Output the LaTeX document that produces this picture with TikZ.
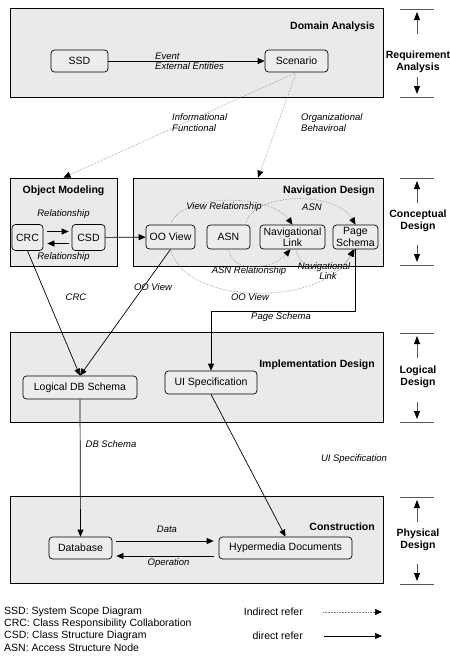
\documentclass[tikz,border=0pt]{standalone}
\usepackage{fontspec}
\setmainfont{Liberation Sans}
\usetikzlibrary{arrows.meta,calc}
\definecolor{boxgray}{HTML}{EAEAEA}
\definecolor{nodegray}{HTML}{EDEDED}
\definecolor{bargray}{HTML}{555555}
\begin{document}
\begin{tikzpicture}[x=1pt,y=-1pt,
 phase/.style={draw=black, line width=0.8pt, fill=boxgray, inner sep=0pt, rectangle},
 stepbox/.style={draw=black, line width=0.7pt, fill=nodegray, rounded corners=3.5pt, inner sep=1pt, align=center, font=\fontsize{10.5}{11.5}\selectfont},
 ttl/.style={font=\bfseries\fontsize{10.5}{12.5}\selectfont, inner sep=0pt, align=center},
 lab/.style={font=\itshape\fontsize{9.5}{10.5}\selectfont, align=left, inner sep=0pt},
 txt/.style={font=\fontsize{10.5}{12}\selectfont, inner sep=0pt},
 arr/.style={line width=0.7pt, -{Triangle[length=7pt,width=6pt]}},
 ind/.style={densely dotted, gray, line width=0.55pt, -{Triangle[length=7pt,width=6pt,color=black,fill=black]}},
 barline/.style={draw=bargray, line width=0.8pt},
 bararr/.style={draw=bargray, line width=0.8pt, -{Triangle[length=8pt,width=6pt,color=black,fill=black]}}
]
\useasboundingbox (0,0) rectangle (450,657);

% phase boxes
\node[phase, minimum width=373pt, minimum height=89pt] (da) at (196.5,52.5) {};
\node[phase, minimum width=107pt, minimum height=88pt] (om) at (63.5,222) {};
\node[phase, minimum width=250pt, minimum height=88pt] (nd) at (258,222) {};
\node[phase, minimum width=373pt, minimum height=90pt] (id) at (196.5,377) {};
\node[phase, minimum width=373pt, minimum height=87pt] (co) at (196.5,539.5) {};

% titles
\node[ttl, anchor=east] (tda) at (375,27) {Domain Analysis};
\node[ttl] (tom) at (63.5,191) {Object Modeling};
\node[ttl, anchor=east] (tnd) at (375,191) {Navigation Design};
\node[ttl, anchor=east] (tid) at (375,365) {Implementation Design};
\node[ttl, anchor=east] (tco) at (375,527) {Construction};

% nodes
\node[stepbox, minimum width=57pt, minimum height=22pt] (ssd) at (79.5,61) {SSD};
\node[stepbox, minimum width=63pt, minimum height=22pt] (scen) at (296.5,61) {Scenario};
\node[stepbox, minimum width=31pt, minimum height=26pt] (crc) at (27.5,237.5) {CRC};
\node[stepbox, minimum width=33pt, minimum height=26pt] (csd) at (88.5,237.5) {CSD};
\node[stepbox, minimum width=49pt, minimum height=24pt] (oov) at (170.5,237) {OO View};
\node[stepbox, minimum width=43pt, minimum height=24pt] (asn) at (228.5,237) {ASN};
\node[stepbox, minimum width=65pt, minimum height=24pt] (nl) at (292.5,237) {Navigational\\Link};
\node[stepbox, minimum width=45pt, minimum height=24pt] (ps) at (355.5,237) {Page\\Schema};
\node[stepbox, minimum width=114pt, minimum height=23pt] (ldb) at (80,387.5) {Logical DB Schema};
\node[stepbox, minimum width=92pt, minimum height=23pt] (ui) at (211,382.5) {UI Specification};
\node[stepbox, minimum width=63pt, minimum height=22pt] (db) at (80.5,548) {Database};
\node[stepbox, minimum width=133pt, minimum height=22pt] (hd) at (285.5,548) {Hypermedia Documents};

% direct connectors
\draw[arr] (ssd) -- (scen);
\draw[arr, shorten <=4pt, shorten >=3pt] ([yshift=6pt]crc.east) -- ([yshift=6pt]csd.west);
\draw[arr, shorten <=3pt, shorten >=4pt] ([yshift=-6pt]csd.west) -- ([yshift=-6pt]crc.east);
\draw[arr] (csd) -- (oov);
\draw[arr] (crc.south) -- (ldb.north);
\draw[arr] (oov.south) -- (ldb.north);
\draw[arr] (ps.south) -- ++(0,62) -| (ui.north);
\draw[arr] (ui.south) -- (hd.north);
\draw[arr] (ldb.south) -- (db.north);
\draw[arr, shorten <=4pt, shorten >=5pt] ([yshift=7pt]db.east) -- ([yshift=7pt]hd.west);
\draw[arr, shorten <=5pt, shorten >=4pt] ([yshift=-8pt]hd.west) -- ([yshift=-8pt]db.east);

% indirect connectors
\draw[ind] (scen.south) -- (om.north);
\draw[ind] (scen.south) -- (nd.north);
\draw[ind] (oov.north) .. controls (180,193) and (270,193) .. (nl.north);
\draw[ind] ([xshift=-5pt]asn.north east) .. controls (252,192) and (335,190) .. (ps.north);
\draw[ind] (asn.south) .. controls (232,274) and (272,270) .. ([xshift=-2pt]nl.south);
\draw[ind] ([xshift=3pt]nl.south) .. controls (305,278) and (338,280) .. ([xshift=-2pt]ps.south);
\draw[ind] (oov.south) .. controls (185,306) and (322,308) .. ([xshift=-1pt]ps.south);

% connector labels
\node[lab, anchor=west] (levt) at (155,61.5) {Event\\External Entities};
\node[lab, anchor=west] (linf) at (172,122.5) {Informational\\Functional};
\node[lab, anchor=west] (lorg) at (301,122.5) {Organizational\\Behaviroal};
\node[lab] (lrel1) at (63.5,214) {Relationship};
\node[lab] (lrel2) at (63.5,257) {Relationship};
\node[lab] (lvr) at (224,207) {View Relationship};
\node[lab] (lasn) at (312,207) {ASN};
\node[lab] (lasnr) at (249,271) {ASN Relationship};
\node[lab, align=center] (lnl) at (324,271) {Navigational\\\hspace*{8pt}Link};
\node[lab] (loov2) at (250,297) {OO View};
\node[lab] (loov1) at (153,287) {OO View};
\node[lab] (lcrc) at (76,297) {CRC};
\node[lab] (lps) at (281,317) {Page Schema};
\node[lab] (ldbs) at (111,444) {DB Schema};
\node[lab] (lui) at (354,459) {UI Specification};
\node[lab] (ldata) at (167,529) {Data};
\node[lab] (lop) at (168.5,563) {Operation};

% side phase indicators
\foreach \n/\t/\b/\c/\la/\lb in {ra/9/97/62/Requirement/Analysis, cd/178/265/221/Conceptual/Design, ld/333/422/377/Logical/Design, pd/497/584/540/Physical/Design} {
  \draw[barline] (400,\t) -- (434,\t);
  \draw[barline] (400,\b) -- (434,\b);
  \coordinate (\n-u1) at (417,\t+25);
  \coordinate (\n-u2) at (417,\t+3);
  \coordinate (\n-d1) at (417,\b-20);
  \coordinate (\n-d2) at (417,\b-3);
  \draw[bararr] (\n-u1) -- (\n-u2);
  \draw[bararr] (\n-d1) -- (\n-d2);
  \node[ttl] (\n-l) at (418,\c) {\la\\\lb};
}

% legend
\node[txt, anchor=west] (g1) at (4,612) {SSD: System Scope Diagram};
\node[txt, anchor=west] (g2) at (4,624) {CRC: Class Responsibility Collaboration};
\node[txt, anchor=west] (g3) at (4,636) {CSD: Class Structure Diagram};
\node[txt, anchor=west] (g4) at (4,648) {ASN: Access Structure Node};
\node[txt, anchor=east] (gi) at (303,612) {Indirect refer};
\node[txt, anchor=east] (gd) at (303,636) {direct refer};
\coordinate (gi1) at (323,612);
\coordinate (gi2) at (382,612);
\coordinate (gd1) at (324,636);
\coordinate (gd2) at (382,636);
\draw[ind] (gi1) -- (gi2);
\draw[arr] (gd1) -- (gd2);
\end{tikzpicture}
\end{document}
